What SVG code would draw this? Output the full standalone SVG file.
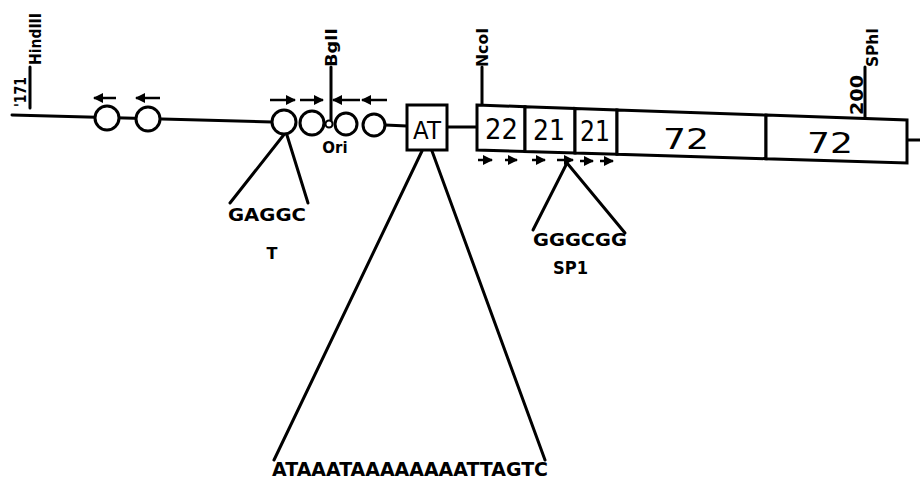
<svg xmlns="http://www.w3.org/2000/svg" width="920" height="487" viewBox="0 0 920 487">
<defs>
<marker id="ah" viewBox="0 0 10 10" refX="9" refY="5" markerWidth="4" markerHeight="4" orient="auto"><path d="M0,0 L10,5 L0,10 z" fill="#000"/></marker>
<style>
.ln{stroke:#000;stroke-width:3;fill:none;stroke-linecap:round}
.c{stroke:#000;stroke-width:3;fill:#fff}
.ar{stroke:#000;stroke-width:2.5;fill:none;marker-end:url(#ah)}
.lab{font-family:"DejaVu Sans",sans-serif;font-weight:bold;font-size:15px;fill:#000}
.seq{font-family:"DejaVu Sans",sans-serif;font-weight:bold;font-size:18px;fill:#000}
.num{font-family:"DejaVu Sans",sans-serif;font-size:28px;fill:#000}
.box{stroke:#000;stroke-width:3;fill:#fff;stroke-linejoin:miter}
</style>
</defs>
<rect width="920" height="487" fill="#fff"/>
<g id="connectors">
<path class="ln" d="M12,115 L272,122"/>
<path class="ln" d="M385,125 L407,126"/>
<path class="ln" d="M447,127 L477,127"/>
<path class="ln" d="M907,140 L920,140"/>
<path class="ln" d="M30,67 L30,108"/>
<path class="ln" d="M331,67 L331,126"/>
<path class="ln" d="M482,67 L482,105"/>
<path class="ln" d="M865,67 L865,118"/>
<path class="ln" d="M286,132 L230,203"/>
<path class="ln" d="M286,132 L308,203"/>
<path class="ln" d="M567,163 L533,230"/>
<path class="ln" d="M567,163 L625,233"/>
<path class="ln" d="M422,151 L274,460"/>
<path class="ln" d="M432,151 L545,460"/>
<path class="ar" d="M116,98 L94,98"/>
<path class="ar" d="M160,98 L136,98"/>
<path class="ar" d="M270,100 L295,100"/>
<path class="ar" d="M300,100 L323,100"/>
<path class="ar" d="M360,100 L333,100"/>
<path class="ar" d="M387,100 L362,100"/>
<path class="ar" d="M478,160 L492,160"/>
<path class="ar" d="M505,160 L517,160"/>
<path class="ar" d="M532,160 L545,160"/>
<path class="ar" d="M557,160 L573,160"/>
<path class="ar" d="M580,161 L593,161"/>
<path class="ar" d="M600,161 L613,161"/>
</g>
<g id="hindIII">
<text class="lab" transform="translate(41,65) rotate(-90)" textLength="52" lengthAdjust="spacingAndGlyphs">HindIII</text>
<text class="lab" transform="translate(26,107) rotate(-90)" textLength="30" lengthAdjust="spacingAndGlyphs">'171</text>
</g>
<g id="circles-left">
<circle class="c" cx="107" cy="118" r="12"/>
<circle class="c" cx="148" cy="119" r="12"/>
</g>
<g id="circles-ori">
<circle class="c" cx="284" cy="122" r="12"/>
<circle class="c" cx="312" cy="123" r="12"/>
<circle class="c" cx="346" cy="124" r="11"/>
<circle class="c" cx="374" cy="125" r="11"/>
<circle class="c" cx="329" cy="124" r="3.5" style="stroke-width:2"/>
</g>
<g id="bglI">
<text class="lab" transform="translate(337,67) rotate(-90)" textLength="39" lengthAdjust="spacingAndGlyphs">BglI</text>
</g>
<g id="ori"><text class="lab" x="335" y="153" text-anchor="middle">Ori</text></g>
<g id="at-box">
<rect class="box" x="407" y="105" width="40" height="45"/>
<text class="num" x="413" y="139" textLength="28" lengthAdjust="spacingAndGlyphs" style="font-size:25px">AT</text>
</g>
<g id="ncoI"><text class="lab" transform="translate(488,67) rotate(-90)" textLength="39" lengthAdjust="spacingAndGlyphs">NcoI</text></g>
<g id="repeats">
<path class="box" d="M477,105 L525,106.7 L525,151.5 L477,150 Z"/>
<path class="box" d="M525,106.7 L575,108.4 L575,153 L525,151.5 Z"/>
<path class="box" d="M575,108.4 L617,109.9 L617,154.2 L575,153 Z"/>
<path class="box" d="M617,109.9 L766,115.1 L766,158.7 L617,154.2 Z"/>
<path class="box" d="M766,115.1 L907,120 L907,163 L766,158.7 Z"/>
<text class="num" x="485" y="139" textLength="33" lengthAdjust="spacingAndGlyphs">22</text>
<text class="num" x="533" y="140" textLength="32" lengthAdjust="spacingAndGlyphs">21</text>
<text class="num" x="580" y="141" textLength="30" lengthAdjust="spacingAndGlyphs">21</text>
<text class="num" x="663" y="149" textLength="46" lengthAdjust="spacingAndGlyphs">72</text>
<text class="num" x="807" y="153" textLength="46" lengthAdjust="spacingAndGlyphs">72</text>
</g>
<g id="sphI">
<text class="lab" transform="translate(863,115) rotate(-90)" style="font-size:17px" textLength="40" lengthAdjust="spacingAndGlyphs">200</text>
<text class="lab" transform="translate(878,67) rotate(-90)" textLength="39" lengthAdjust="spacingAndGlyphs">SPhI</text>
</g>
<g id="gaggc">
<text class="seq" x="228" y="221" textLength="78" lengthAdjust="spacingAndGlyphs">GAGGC</text>
<text class="lab" x="272" y="259" text-anchor="middle" style="font-size:16px">T</text>
</g>
<g id="gggcgg">
<text class="seq" x="533" y="246" textLength="94" lengthAdjust="spacingAndGlyphs">GGGCGG</text>
<text class="lab" x="553" y="274" textLength="35" lengthAdjust="spacingAndGlyphs" style="font-size:17px">SP1</text>
</g>
<g id="at-seq">
<text class="seq" x="272" y="476" textLength="276" lengthAdjust="spacingAndGlyphs" style="font-size:19px">ATAAATAAAAAAAATTAGTC</text>
</g>
</svg>
